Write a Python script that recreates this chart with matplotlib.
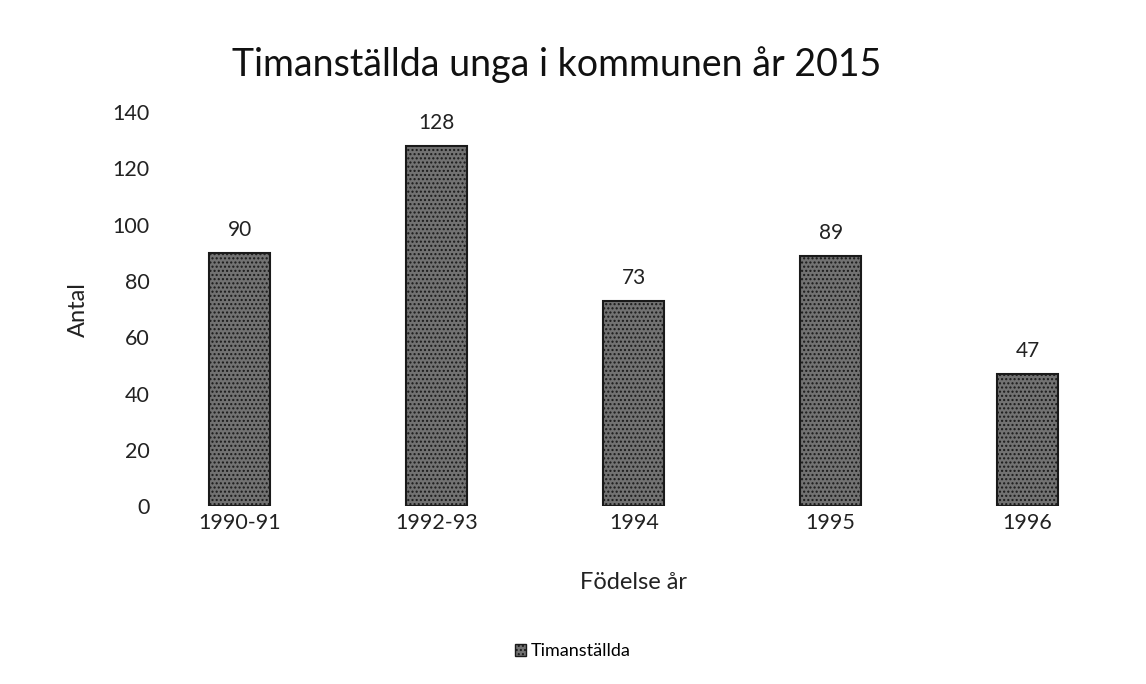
import matplotlib
matplotlib.use("Agg")
import matplotlib.pyplot as plt
from matplotlib.patches import Patch

categories = ["1990-91", "1992-93", "1994", "1995", "1996"]
values = [90, 128, 73, 89, 47]
yticks = [0, 20, 40, 60, 80, 100, 120, 140]
title = "Timanställda unga i kommunen år 2015"
series_name = "Timanställda"

plt.rcParams['font.family'] = ['Lato', 'DejaVu Sans']

fig = plt.figure(figsize=(11.46, 6.84), dpi=100)
ax = fig.add_axes([0.1235, 0.260, 0.859, 0.576])

x = list(range(len(categories)))
bars = ax.bar(x, values, width=0.31, color="#727272", edgecolor="#1a1a1a",
              linewidth=1.5, hatch="....", label=series_name)

for xi, v in zip(x, values):
    ax.text(xi, v + 4.5, str(v), ha="center", va="bottom", fontsize=15, color="#222222")

ax.set_xlim(-0.5, len(categories) - 0.5)
ax.set_ylim(0, 140)
ax.set_yticks(yticks)
ax.set_xticks(x)
ax.set_xticklabels(categories)
ax.tick_params(axis="both", length=0, labelsize=15.5, colors="#222222")
ax.tick_params(axis="x", pad=5)
ax.tick_params(axis="y", pad=-6)
for s in ax.spines.values():
    s.set_visible(False)

ax.set_xlabel("Födelse år", fontsize=17, color="#222222", labelpad=28)
ax.set_ylabel("Antal", fontsize=17, color="#222222", labelpad=17)
fig.text(0.486, 0.905, title, ha="center", va="center", fontsize=27, color="#111111")

handle = Patch(facecolor="#727272", edgecolor="#1a1a1a", hatch="....")
fig.legend([handle], [series_name], loc="center", bbox_to_anchor=(0.5, 0.048),
           frameon=False, fontsize=13, handlelength=0.6, handleheight=0.6,
           handletextpad=0.3)

fig.savefig("out.png", dpi=100, facecolor="white")
